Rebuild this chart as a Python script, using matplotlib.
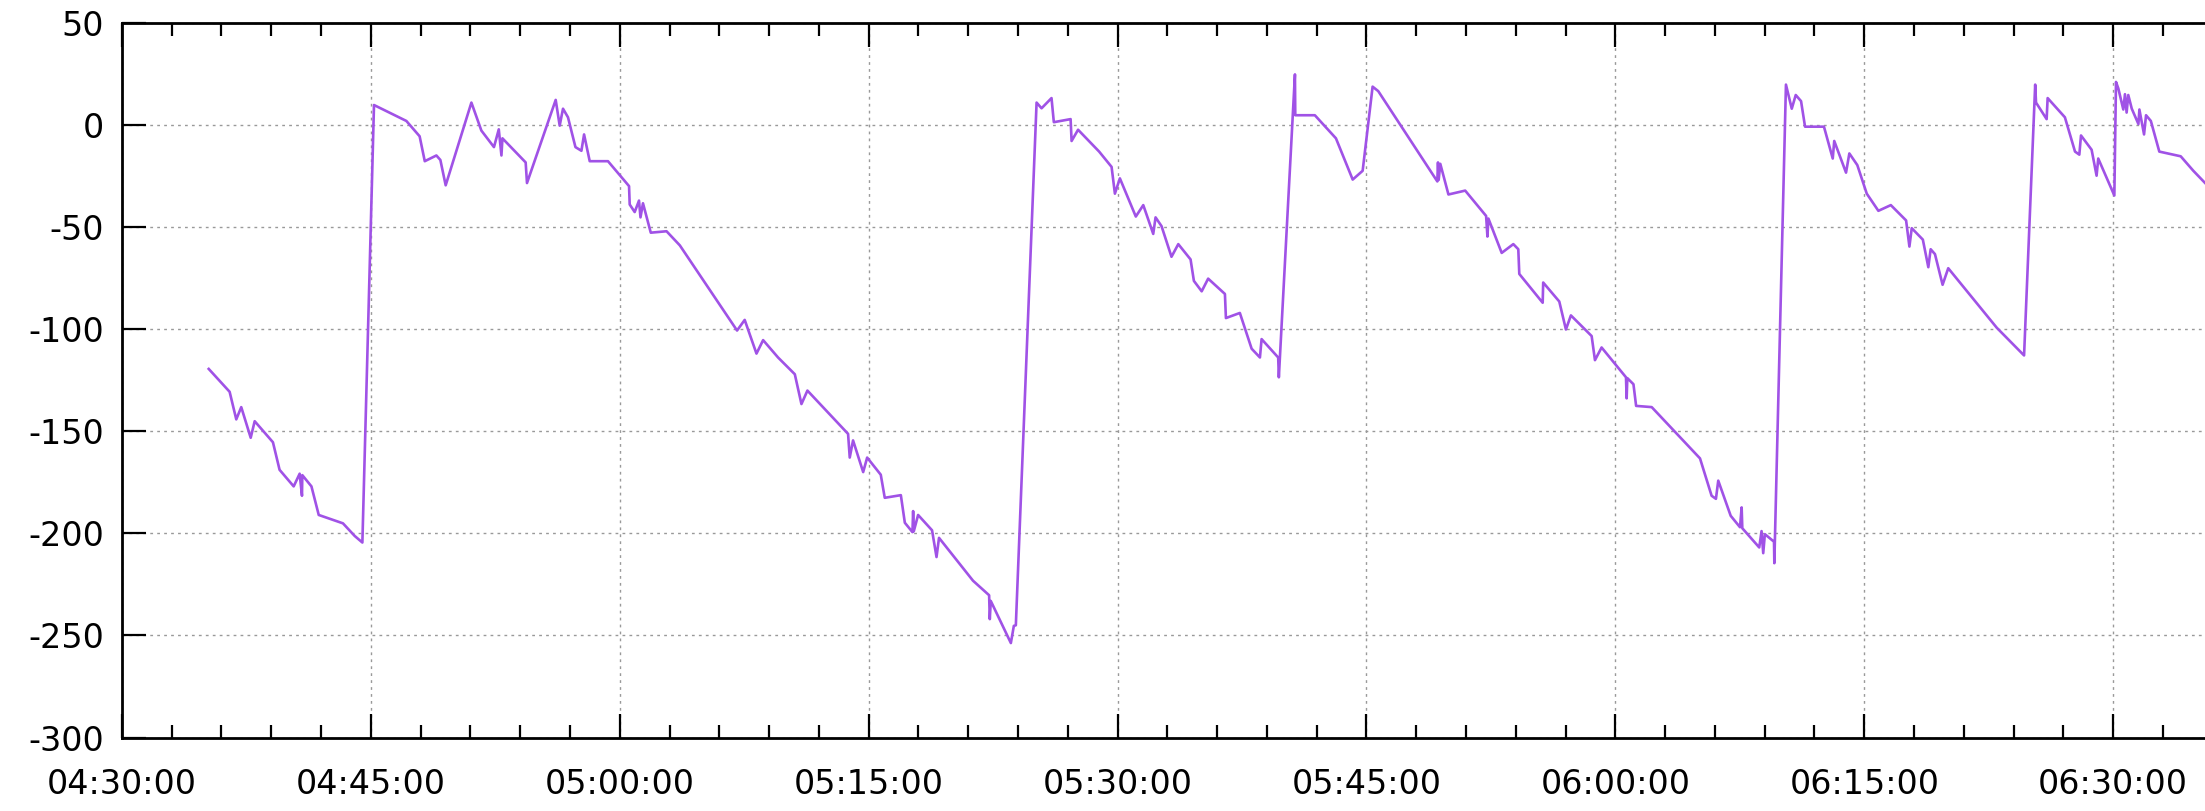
import numpy as np
import matplotlib
matplotlib.use("Agg")
import matplotlib.pyplot as plt
import matplotlib.dates as mdates

# minutes after 04:30:00 and the plotted value
minutes = [
    5.23, 6.49, 6.89, 7.19, 7.76, 8.00, 9.10, 9.50, 10.35, 10.71, 10.85, 10.87,
    11.42, 11.86, 13.32, 14.03, 14.49, 15.19, 17.14, 17.94, 18.25, 18.95, 19.19,
    19.51, 21.06, 21.66, 22.42, 22.71, 22.87, 22.93, 24.33, 24.41, 26.14, 26.38,
    26.58, 26.88, 27.33, 27.69, 27.85, 28.19, 29.29, 30.56, 30.60, 30.90, 31.16,
    31.25, 31.40, 31.87, 32.82, 33.62, 37.07, 37.53, 38.24, 38.64, 39.54, 40.55,
    40.95, 41.31, 43.76, 43.86, 44.06, 44.67, 44.91, 45.73, 45.97, 46.94, 47.18,
    47.64, 47.68, 47.72, 47.98, 48.82, 49.09, 49.24, 51.29, 52.26, 52.30, 52.36,
    53.57, 53.75, 53.87, 55.12, 55.42, 56.02, 56.16, 57.17, 57.23, 57.62, 58.89,
    59.64, 59.84, 60.14, 61.10, 61.55, 62.15, 62.29, 62.65, 63.25, 63.66, 64.40,
    64.60, 65.07, 65.46, 66.47, 66.53, 67.37, 68.08, 68.58, 68.68, 69.68, 69.72,
    70.69, 70.71, 71.89, 73.16, 74.17, 74.77, 75.37, 75.71, 79.27, 79.31, 79.35,
    79.45, 79.94, 80.95, 82.21, 82.29, 82.35, 83.15, 83.85, 84.15, 84.21, 85.62,
    85.65, 86.62, 87.02, 87.32, 88.57, 88.77, 89.17, 90.64, 90.68, 90.72, 91.09,
    91.25, 92.19, 95.10, 95.80, 96.06, 96.20, 96.95, 97.51, 97.61, 97.65, 98.67,
    98.81, 98.91, 99.01, 99.56, 99.58, 100.28, 100.63, 100.87, 101.19, 101.43,
    102.57, 103.10, 103.19, 103.90, 104.10, 104.58, 105.15, 105.85, 106.60,
    107.52, 107.72, 107.86, 108.53, 108.86, 109.00, 109.26, 109.72, 110.06,
    112.98, 114.63, 115.30, 115.35, 115.99, 116.05, 117.09, 117.70, 117.96,
    118.06, 118.70, 119.00, 119.10, 120.07, 120.17, 120.31, 120.61, 120.71,
    120.81, 120.91, 121.12, 121.52, 121.58, 121.86, 121.98, 122.27, 122.78,
    124.07, 124.83, 125.60,
]
values = [
    -119.5, -130.7, -144.2, -138.2, -153.2, -145.1, -155.4, -168.9, -177.0, -170.8, -181.6, -171.5,
    -177.0, -191.0, -195.1, -201.3, -204.5, 9.7, 1.9, -5.6, -17.8, -15.0, -17.2,
    -29.6, 10.9, -2.8, -10.9, -2.2, -15.0, -6.6, -18.4, -28.5, 12.2, -0.4,
    7.9, 3.7, -10.9, -12.7, -4.7, -17.8, -17.8, -30.0, -39.0, -42.7, -37.1,
    -45.3, -38.4, -52.8, -52.1, -59.0, -100.7, -95.5, -112.0, -105.4, -113.9, -122.1,
    -136.7, -130.1, -151.3, -162.9, -154.5, -170.0, -162.9, -171.3, -182.6, -181.3, -194.8,
    -199.4, -189.1, -199.0, -191.0, -198.5, -211.6, -202.2, -223.2, -230.3, -242.0, -233.1,
    -253.7, -245.3, -245.0, 10.9, 8.1, 13.1, 1.3, 2.8, -7.9, -2.4, -13.1,
    -20.6, -33.7, -26.2, -44.9, -39.3, -53.4, -45.3, -49.6, -64.6, -58.4, -65.9,
    -76.4, -81.5, -75.3, -82.8, -94.6, -92.1, -109.6, -113.9, -104.9, -113.9, -123.6,
    24.7, 4.7, 4.7, -6.6, -26.8, -22.5, 18.7, 16.5, -27.7, -18.4, -27.0,
    -19.1, -34.1, -32.2, -44.6, -54.7, -45.9, -62.7, -58.4, -60.9, -73.0, -87.1,
    -77.2, -86.5, -100.2, -93.3, -103.4, -115.2, -109.0, -123.6, -133.9, -124.0, -127.0,
    -137.6, -138.2, -163.3, -181.6, -183.1, -174.2, -191.4, -197.0, -187.3, -197.5, -206.9,
    -198.9, -209.7, -200.4, -204.1, -214.6, 19.7, 7.9, 14.6, 11.6, -0.9,
    -0.9, -16.5, -7.9, -23.4, -14.0, -19.7, -33.7, -42.1, -39.3,
    -46.8, -59.6, -50.6, -56.2, -69.7, -60.9, -63.3, -78.3, -70.2,
    -99.3, -112.9, 19.7, 10.9, 2.8, 13.1, 3.7, -13.1, -14.6,
    -5.2, -12.2, -24.9, -16.5, -34.6, 21.0, 17.8, 7.5, 15.0,
    6.0, 14.6, 7.9, 0.4, 7.5, -4.7, 4.7, 1.9, -13.1,
    -15.4, -22.5, -29.0,
]
yticks = [50, 0, -50, -100, -150, -200, -250, -300]

base = np.datetime64("2000-01-01T04:30:00")
times = base + (np.array(minutes) * 60000).astype("timedelta64[ms]")

plt.rcParams["axes.unicode_minus"] = False
plt.rcParams["font.family"] = "DejaVu Sans"

fig = plt.figure(figsize=(22.05, 8.11), dpi=100)
ax = fig.add_axes([0.0553, 0.0905, 0.9447, 0.8815])

ax.plot(times, values, color="#a052e6", linewidth=1.9)

ax.set_ylim(-300, 50)
ax.set_yticks(yticks)
ax.set_xlim(base, base + np.timedelta64(int(125.54 * 60), "s"))

ax.xaxis.set_major_locator(mdates.MinuteLocator(byminute=[0, 15, 30, 45]))
ax.xaxis.set_minor_locator(mdates.MinuteLocator(byminute=range(0, 60, 3)))
ax.xaxis.set_major_formatter(mdates.DateFormatter("%H:%M:%S"))

ax.grid(True, which="major", color="#999999", linestyle=(0, (2, 3)), linewidth=1.0)

ax.spines["right"].set_visible(False)
for s in ["left", "top", "bottom"]:
    ax.spines[s].set_linewidth(2.0)

ax.tick_params(axis="both", which="both", direction="in", top=True, right=False)
ax.tick_params(axis="both", which="major", length=17, width=1.6, labelsize=24)
ax.tick_params(axis="both", which="minor", length=9.5, width=1.6)
ax.tick_params(axis="x", which="major", pad=22)
ax.tick_params(axis="y", which="major", pad=13)

fig.savefig("out.png", dpi=100)
